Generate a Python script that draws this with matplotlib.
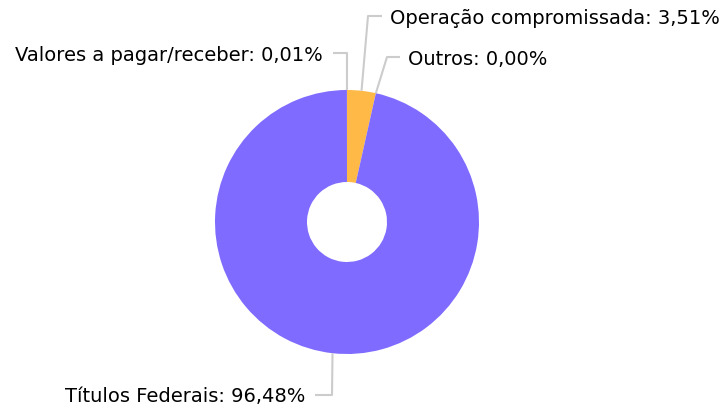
import numpy as np
import matplotlib
matplotlib.use("Agg")
import matplotlib.pyplot as plt

labels = ["Operação compromissada", "Outros", "Títulos Federais", "Valores a pagar/receber"]
values = [3.51, 0.00, 96.48, 0.01]
value_text = ["3,51%", "0,00%", "96,48%", "0,01%"]
colors = ["#FFB946", "#7F6BFF", "#7F6BFF", "#7F6BFF"]

W, H = 723, 412
fig = plt.figure(figsize=(W / 100, H / 100), dpi=100)
ax = fig.add_axes([0, 0, 1, 1])

cx, cy = 347, H - 222
R, r_in = 132, 40

ax.pie(values, colors=colors, startangle=90, counterclock=False,
       radius=R, center=(cx, cy), frame=False,
       wedgeprops=dict(width=R - r_in, linewidth=0))
ax.set_xlim(0, W)
ax.set_ylim(0, H)
ax.set_aspect("equal")
ax.axis("off")

# label layout: (elbow x, elbow y from top, horizontal end x, side)
layout = {
    "Operação compromissada": (368, 16, 382, "left"),
    "Outros": (387, 57, 400, "left"),
    "Títulos Federais": (332, 395, 315, "right"),
    "Valores a pagar/receber": (347, 53, 333, "right"),
}

total = sum(values)
cum = 0.0
for lab, v, vt in zip(labels, values, value_text):
    mid = (cum + v / 2) / total * 360.0
    cum += v
    ang = np.deg2rad(mid)
    x0 = cx + R * np.sin(ang)
    y0 = cy + R * np.cos(ang)
    ex, ey, hx, side = layout[lab]
    ey = H - ey
    ax.plot([x0, ex, hx], [y0, ey, ey], color="#CCCCCC", lw=1.5,
            solid_capstyle="butt", zorder=1)
    if side == "left":
        ax.text(hx + 8, ey - 2, f"{lab}: {vt}", ha="left", va="center",
                fontsize=14, color="#000000")
    else:
        ax.text(hx - 10, ey - 2, f"{lab}: {vt}", ha="right", va="center",
                fontsize=14, color="#000000")

fig.savefig("out.png", dpi=100)
